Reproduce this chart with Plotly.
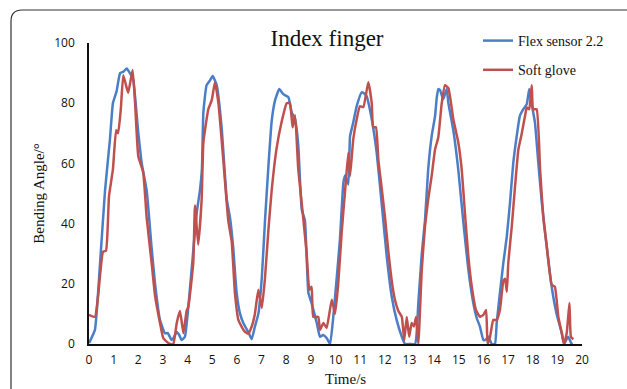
import plotly.graph_objects as go

# ---- data ----
flex_t = [0.00, 0.24, 0.45, 0.65, 0.85, 0.97, 1.12, 1.26, 1.40, 1.53, 1.66, 1.79, 1.99, 2.14, 2.34, 2.54, 2.68,
          2.88, 3.08, 3.20, 3.35, 3.46, 3.56, 3.66, 3.76, 3.89, 4.03, 4.23, 4.37, 4.50, 4.58, 4.64, 4.77, 4.90,
          5.02, 5.18, 5.38, 5.59, 5.72, 5.85, 5.99, 6.13, 6.26, 6.46, 6.60, 6.73, 6.87, 7.01, 7.14, 7.27, 7.41,
          7.55, 7.72, 7.88, 8.09, 8.22, 8.36, 8.49, 8.63, 8.76, 8.90, 9.03, 9.24, 9.37, 9.50, 9.64, 9.78, 9.91,
          10.05, 10.18, 10.32, 10.39, 10.52, 10.59, 10.72, 10.86, 11.06, 11.20, 11.26, 11.47, 11.67, 11.87,
          12.08, 12.28, 12.48, 12.69, 12.82, 13.00, 13.23, 13.36, 13.50, 13.63, 13.76, 13.90, 14.04, 14.11,
          14.17, 14.24, 14.37, 14.51, 14.58, 14.78, 14.98, 15.18, 15.39, 15.59, 15.73, 15.86, 16.00, 16.10,
          16.20, 16.34, 16.47, 16.54, 16.67, 16.81, 16.95, 17.08, 17.21, 17.35, 17.48, 17.62, 17.76, 17.86,
          17.96, 18.09, 18.23, 18.37, 18.57, 18.77, 18.97, 19.18, 19.27, 19.37, 19.44, 19.58, 19.63]
flex_v = [0.3, 4.7, 27, 51, 68, 80, 84, 90, 90.5, 91.5, 90, 88, 71, 60, 51, 32, 20,
          8, 3.6, 3.6, 1.3, 2.5, 4, 3, 1.3, 2.4, 12.4, 31, 43.6, 51, 58, 77, 86, 87.5,
          89, 86, 72, 48, 42, 32, 17, 10, 7, 4, 1.6, 5.8, 10, 22, 41, 58, 74,
          81, 84.7, 83, 82, 77, 74.7, 66, 44.7, 41, 17, 13.6, 7, 2.4, 3, 2, 0, 9,
          22, 34.7, 53.6, 56, 53, 69, 73.6, 79, 83.6, 83, 82.4, 74.7, 63.6, 47,
          29, 15.8, 8, 2.4, 0, 0, 0, 13.6, 30, 41, 58, 69, 75.8, 82,
          84.7, 84.4, 81.3, 84.7, 80, 71, 58, 41, 24.7, 13.6, 8.6, 5.8, 1.3, 1.5,
          2.4, 0, 0, 7, 17, 27, 35.8, 47, 60, 69, 75.8, 78, 79.7, 84.7,
          79.7, 73.6, 60, 47, 32.4, 19, 10, 3.6, 0, 1.5, 2.4, 0, 0]

glove_t = [0.00, 0.24, 0.37, 0.57, 0.69, 0.81, 0.97, 1.10, 1.18, 1.29, 1.39, 1.50, 1.59, 1.77, 1.87, 2.00,
           2.20, 2.34, 2.54, 2.68, 2.88, 3.01, 3.15, 3.29, 3.42, 3.56, 3.69, 3.83, 3.96, 4.03, 4.23, 4.30,
           4.43, 4.57, 4.64, 4.84, 4.98, 5.11, 5.25, 5.45, 5.65, 5.79, 5.92, 6.06, 6.19, 6.33, 6.46, 6.60,
           6.73, 6.87, 7.01, 7.14, 7.27, 7.41, 7.61, 7.82, 8.02, 8.15, 8.26, 8.36, 8.49, 8.69, 8.83, 8.94,
           9.03, 9.10, 9.30, 9.37, 9.51, 9.64, 9.85, 9.98, 10.11, 10.25, 10.39, 10.52, 10.59, 10.72, 10.86,
           10.99, 11.13, 11.33, 11.47, 11.53, 11.64, 11.74, 11.87, 12.01, 12.14, 12.28, 12.41, 12.55, 12.69,
           12.79, 12.89, 12.99, 13.09, 13.18, 13.27, 13.36, 13.50, 13.63, 13.76, 13.90, 14.04, 14.17, 14.31,
           14.44, 14.58, 14.78, 14.98, 15.12, 15.25, 15.39, 15.53, 15.70, 15.86, 16.00, 16.11, 16.17, 16.27,
           16.40, 16.54, 16.67, 16.81, 16.88, 16.95, 17.01, 17.15, 17.28, 17.42, 17.55, 17.69, 17.76, 17.86,
           17.96, 18.02, 18.16, 18.30, 18.43, 18.57, 18.77, 18.90, 19.04, 19.18, 19.27, 19.38, 19.49, 19.55,
           19.65]
glove_v = [9.7, 9, 16, 30.7, 31, 49, 58, 71, 70, 78, 89.3, 86, 83.5, 91, 80, 62.4,
           57, 42, 27, 16, 7, 2, 0.8, 0, 0, 7, 11, 3.6, 11, 12.4, 27, 46,
           33, 48, 67, 78, 81, 87, 80, 61, 41, 34, 17, 8, 5.8, 4, 3.4, 5.8,
           10, 18, 12, 22, 37, 51, 65, 74, 80, 80, 72, 76, 58, 42, 30, 18,
           19, 9, 9, 4.7, 7, 5.3, 14.7, 10, 20, 37, 51, 63.6, 55.8, 68, 74.7,
           79, 78.7, 87, 80, 72, 72, 61, 52, 42, 31, 21, 14.7, 11, 9,
           1.3, 9, 2.4, 7, 5.8, 9, 0, 24.7, 39, 48, 55.8, 64.7, 68.6, 80,
           86, 85, 74.7, 67, 58, 43.6, 29, 19, 11.3, 9, 9.7, 11.3, 0, 2.4,
           8, 8, 11.3, 21, 21.7, 17.4, 27, 39, 52, 64.7, 69.7, 75.8, 78.6, 78,
           86, 78, 78, 58, 42, 32.4, 19.7, 19, 9, 3.6, 0, 3.6, 13.6, 2.4,
           1.6]

x_ticks = list(range(0, 21))
y_ticks = [0, 20, 40, 60, 80, 100]

BLUE = "#4A7EC7"
RED = "#C0504D"
SERIF = "Liberation Serif"

fig = go.Figure()
fig.add_trace(go.Scatter(x=flex_t, y=flex_v, mode="lines", name="Flex sensor 2.2",
                         legendgroup="a",
                         line=dict(color=BLUE, width=2.5, shape="spline", smoothing=0.4)))
fig.add_trace(go.Scatter(x=glove_t, y=glove_v, mode="lines", name="Soft glove",
                         legendgroup="b",
                         line=dict(color=RED, width=2.5, shape="spline", smoothing=0.4)))

W, H = 627, 389
L, R, T, B = 89, 45, 43, 45
pw, ph = W - L - R, H - T - B


def px(x):
    return (x - L) / pw


def py(y):
    return (H - B - y) / ph


border = (f"M {px(11)},{py(400)} L {px(11)},{py(21)} Q {px(11)},{py(10)} {px(22)},{py(10)} "
          f"L {px(640)},{py(10)}")

fig.update_layout(
    width=W, height=H,
    margin=dict(l=L, r=R, t=T, b=B, autoexpand=False),
    paper_bgcolor="white", plot_bgcolor="white",
    title=dict(text="Index finger", font=dict(family=SERIF, size=23, color="#111"),
               x=px(327), xref="paper", xanchor="center",
               y=1 - 38 / H, yref="container", yanchor="middle"),
    xaxis=dict(range=[0, 20], tickvals=x_ticks, showgrid=False, zeroline=False,
               showline=True, linecolor="#111", linewidth=2, ticks="",
               tickfont=dict(family="Open Sans", size=12, color="#111"),
               ticklabelstandoff=4),
    yaxis=dict(range=[0, 100], tickvals=y_ticks, showgrid=False, zeroline=False,
               showline=True, linecolor="#111", linewidth=1.5, ticks="",
               tickfont=dict(family="Open Sans", size=12, color="#111"),
               ticklabelstandoff=10,
               title=dict(text="Bending Angle/°", font=dict(family=SERIF, size=15, color="#111"),
                          standoff=6)),
    showlegend=True,
    legend=dict(x=px(478), y=py(25), xanchor="left", yanchor="top",
                font=dict(family=SERIF, size=14, color="#111"),
                bgcolor="rgba(0,0,0,0)", tracegroupgap=8),
    shapes=[dict(type="path", path=border, xref="paper", yref="paper",
                 line=dict(color="#333", width=1.2), layer="above")],
    annotations=[dict(text="Time/s", x=px(345), y=py(379), xref="paper", yref="paper",
                      xanchor="center", yanchor="middle", showarrow=False,
                      font=dict(family=SERIF, size=15, color="#111"))],
)

fig.write_html("out.html")
